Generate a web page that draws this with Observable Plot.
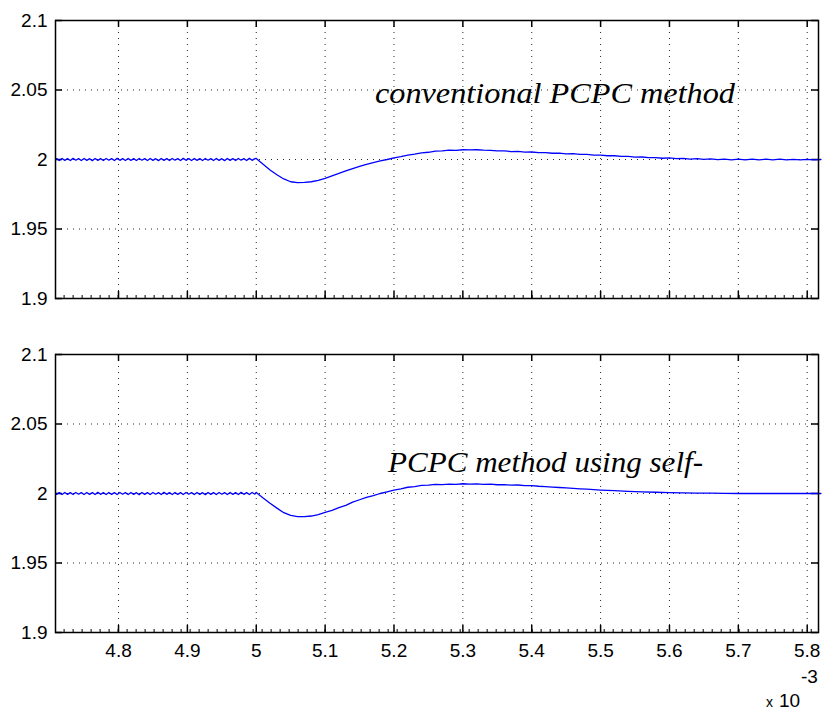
<!DOCTYPE html>
<html>
<head>
<meta charset="utf-8">
<script src="https://cdn.jsdelivr.net/npm/d3@7"></script>
<script src="https://cdn.jsdelivr.net/npm/@observablehq/plot@0.6"></script>
<style>
  html, body { margin: 0; padding: 0; background: #fff; }
  #wrap { position: relative; width: 824px; height: 713px; font-family: "Liberation Sans", Arial, sans-serif; }
  #wrap svg { display: block; }
</style>
</head>
<body>
<div id="wrap"></div>
<script>
// ---- data (time in ms, i.e. x10^-3 s; voltage) ----
const xTicks = [4.8, 4.9, 5.0, 5.1, 5.2, 5.3, 5.4, 5.5, 5.6, 5.7, 5.8];
const xTickLabels = ["4.8", "4.9", "5", "5.1", "5.2", "5.3", "5.4", "5.5", "5.6", "5.7", "5.8"];
const yTicks = [1.9, 1.95, 2.0, 2.05, 2.1];
const yTickLabels = ["1.9", "1.95", "2", "2.05", "2.1"];
const yGrid = [1.95, 2.0, 2.05];
const annotations = ["conventional PCPC method", "PCPC method using self-"];
const exponentParts = ["x", "10", "-3"];

// steady-state ripple segment (before the step at t = 5 ms)
const tPre = [
  4.710,4.714,4.718,4.722,4.726,4.730,4.734,4.738,4.742,4.746,
  4.750,4.754,4.758,4.762,4.766,4.770,4.774,4.778,4.782,4.786,
  4.790,4.794,4.798,4.802,4.806,4.810,4.814,4.818,4.822,4.826,
  4.830,4.834,4.838,4.842,4.846,4.850,4.854,4.858,4.862,4.866,
  4.870,4.874,4.878,4.882,4.886,4.890,4.894,4.898,4.902,4.906,
  4.910,4.914,4.918,4.922,4.926,4.930,4.934,4.938,4.942,4.946,
  4.950,4.954,4.958,4.962,4.966,4.970,4.974,4.978,4.982,4.986,
  4.990,4.994,4.998
];
const vPreTop = [
  2.0006,1.9993,2.0007,1.9994,2.0006,1.9993,2.0008,1.9995,2.0006,1.9993,
  2.0007,1.9994,2.0006,1.9992,2.0007,1.9994,2.0006,1.9993,2.0007,1.9995,
  2.0006,1.9993,2.0008,1.9994,2.0006,1.9993,2.0007,1.9994,2.0006,1.9993,
  2.0007,1.9995,2.0006,1.9993,2.0007,1.9994,2.0006,1.9992,2.0007,1.9994,
  2.0006,1.9993,2.0007,1.9995,2.0006,1.9993,2.0008,1.9994,2.0006,1.9993,
  2.0007,1.9994,2.0006,1.9993,2.0007,1.9995,2.0006,1.9993,2.0007,1.9994,
  2.0006,1.9992,2.0007,1.9994,2.0006,1.9993,2.0007,1.9995,2.0006,1.9993,
  2.0008,1.9994,2.0006
];
const vPreBottom = [
  1.9994,2.0006,1.9993,2.0007,1.9994,2.0006,1.9993,2.0007,1.9995,2.0006,
  1.9993,2.0007,1.9994,2.0006,1.9993,2.0008,1.9994,2.0006,1.9993,2.0007,
  1.9994,2.0006,1.9993,2.0007,1.9995,2.0006,1.9993,2.0007,1.9994,2.0006,
  1.9992,2.0007,1.9994,2.0006,1.9993,2.0007,1.9995,2.0006,1.9993,2.0008,
  1.9994,2.0006,1.9993,2.0007,1.9994,2.0006,1.9993,2.0007,1.9995,2.0006,
  1.9993,2.0007,1.9994,2.0006,1.9992,2.0007,1.9994,2.0006,1.9993,2.0007,
  1.9995,2.0006,1.9993,2.0007,1.9994,2.0006,1.9993,2.0008,1.9994,2.0006,
  1.9993,2.0007,1.9995
];

// transient segment, top panel (conventional PCPC)
const tPostTop = [
  5.00,5.01,5.02,5.03,5.04,5.05,5.06,5.07,5.08,5.09,
  5.10,5.11,5.12,5.13,5.14,5.15,5.16,5.17,5.18,5.19,
  5.20,5.21,5.22,5.23,5.24,5.25,5.26,5.27,5.28,5.29,
  5.30,5.31,5.32,5.33,5.34,5.35,5.36,5.37,5.38,5.39,
  5.40,5.41,5.42,5.43,5.44,5.45,5.46,5.47,5.48,5.49,
  5.50,5.51,5.52,5.53,5.54,5.55,5.56,5.57,5.58,5.59,
  5.60,5.61,5.62,5.63,5.64,5.65,5.66,5.67,5.68,5.69,
  5.70,5.71,5.72,5.73,5.74,5.75,5.76,5.77,5.78,5.79,
  5.80,5.81,5.82
];
const vPostTop = [
  2.0008,1.9965,1.9925,1.9890,1.9860,1.9840,1.9833,1.9835,1.9840,1.9850,
  1.9865,1.9882,1.9900,1.9918,1.9935,1.9950,1.9965,1.9978,1.9990,2.0000,
  2.0012,2.0020,2.0032,2.0038,2.0048,2.0052,2.0060,2.0062,2.0067,2.0066,
  2.0070,2.0069,2.0070,2.0067,2.0066,2.0062,2.0062,2.0057,2.0058,2.0053,
  2.0054,2.0049,2.0050,2.0045,2.0046,2.0041,2.0042,2.0037,2.0037,2.0032,
  2.0032,2.0027,2.0027,2.0022,2.0022,2.0017,2.0018,2.0013,2.0014,2.0009,
  2.0011,2.0006,2.0008,2.0003,2.0006,2.0001,2.0004,1.9999,2.0003,1.9998,
  2.0003,1.9998,2.0002,1.9997,2.0002,1.9997,2.0002,1.9997,2.0001,1.9997,
  2.0001,1.9998,2.0000
];

// transient segment, bottom panel (PCPC using self-...)
const tPostBottom = [
  5.00,5.01,5.02,5.03,5.04,5.05,5.06,5.07,5.08,5.09,
  5.10,5.11,5.12,5.13,5.14,5.15,5.16,5.17,5.18,5.19,
  5.20,5.21,5.22,5.23,5.24,5.25,5.26,5.27,5.28,5.29,
  5.30,5.31,5.32,5.33,5.34,5.35,5.36,5.37,5.38,5.39,
  5.40,5.41,5.42,5.43,5.44,5.45,5.46,5.47,5.48,5.49,
  5.50,5.52,5.54,5.56,5.58,5.60,5.62,5.64,5.66,5.68,
  5.70,5.76,5.82
];
const vPostBottom = [
  2.0008,1.9968,1.9930,1.9895,1.9862,1.9842,1.9834,1.9833,1.9838,1.9848,
  1.9865,1.9878,1.9898,1.9915,1.9938,1.9955,1.9972,1.9985,2.0000,2.0012,
  2.0025,2.0033,2.0045,2.0050,2.0059,2.0060,2.0065,2.0064,2.0068,2.0066,
  2.0070,2.0067,2.0069,2.0065,2.0067,2.0063,2.0064,2.0060,2.0061,2.0056,
  2.0056,2.0052,2.0050,2.0046,2.0043,2.0040,2.0037,2.0034,2.0031,2.0028,
  2.0025,2.0020,2.0016,2.0012,2.0009,2.0007,2.0005,2.0003,2.0002,2.0001,
  2.0000,2.0000,2.0000
];

// ---- layout ----
const W = 824, ML = 55, MR = 6;
const FW = W - ML - MR;   // frame width
const FH = 278;           // frame height
const xDomain = [4.7085, 5.8164];
const yDomain = [1.9, 2.1];
const minorTicks = d3.range(4.7210, 5.817, 0.01307);
const font = "Liberation Sans, Arial, sans-serif";
const serif = "Liberation Serif, Times New Roman, serif";

function rows(ts, vs) { return ts.map((t, i) => ({t, v: vs[i]})); }

function panel({height, marginTop, marginBottom, series, showX}) {
  const marks = [
    Plot.gridX(xTicks, {stroke: "#000", strokeOpacity: 0.85, strokeDasharray: "1,5"}),
    Plot.gridY(yGrid, {stroke: "#000", strokeOpacity: 0.85, strokeDasharray: "1,5"}),
    Plot.ruleX(xTicks, {x: d => d, insetBottom: FH - 7, stroke: "#000", strokeWidth: 1.5}),
    Plot.ruleX(xTicks, {x: d => d, insetTop: FH - 7, stroke: "#000", strokeWidth: 1.5}),
    Plot.ruleX(minorTicks, {x: d => d, insetTop: FH - 3, stroke: "#000", strokeWidth: 1}),
    Plot.ruleY(yTicks, {y: d => d, insetRight: FW - 7, stroke: "#000", strokeWidth: 1.5}),
    Plot.ruleY(yTicks, {y: d => d, insetLeft: FW - 7, stroke: "#000", strokeWidth: 1.5}),
    Plot.line(series, {x: "t", y: "v", stroke: "#0000ff", strokeWidth: 1.3}),
    Plot.frame({stroke: "#000", strokeWidth: 1.5}),
    Plot.axisY(yTicks, {tickSize: 0, tickPadding: 8, fontSize: 19, fill: "#000", label: null,
      tickFormat: d => yTickLabels[yTicks.indexOf(d)]})
  ];
  if (showX) {
    marks.push(Plot.axisX(xTicks, {tickSize: 0, tickPadding: 11, fontSize: 19, fill: "#000", label: null,
      tickFormat: d => xTickLabels[xTicks.indexOf(d)]}));
  }
  return Plot.plot({
    width: W, height, marginLeft: ML, marginRight: MR, marginTop, marginBottom,
    style: {fontFamily: font, fontSize: "19px", color: "#000", background: "#fff", overflow: "visible"},
    x: {domain: xDomain, axis: null, label: null},
    y: {domain: yDomain, axis: null, label: null},
    marks
  });
}

function addText(svg, str, x, y, size, opts = {}) {
  const t = d3.select(svg).append("text")
    .attr("x", x).attr("y", y)
    .attr("text-anchor", "start")
    .attr("font-family", opts.family || font)
    .attr("font-size", size)
    .attr("fill", "#000")
    .text(str);
  if (opts.italic) t.attr("font-style", "italic");
  if (opts.length) t.attr("textLength", opts.length).attr("lengthAdjust", "spacingAndGlyphs");
  return t;
}

const wrap = document.getElementById("wrap");

const topPanel = panel({
  height: 330, marginTop: 20, marginBottom: 32,
  series: rows(tPre.concat(tPostTop), vPreTop.concat(vPostTop)),
  showX: false
});
wrap.appendChild(topPanel);
addText(topPanel, annotations[0], 375, 103, 29, {family: serif, italic: true, length: 360});

const bottomPanel = panel({
  height: 383, marginTop: 24, marginBottom: 81,
  series: rows(tPre.concat(tPostBottom), vPreBottom.concat(vPostBottom)),
  showX: true
});
wrap.appendChild(bottomPanel);
addText(bottomPanel, annotations[1], 388, 472 - 330, 29, {family: serif, italic: true, length: 315});

// exponent label "x 10^-3" (bottom panel SVG starts at y = 330)
addText(bottomPanel, exponentParts[0], 766, 707 - 330, 14);
addText(bottomPanel, exponentParts[1], 779, 707 - 330, 19);
addText(bottomPanel, exponentParts[2], 801, 683 - 330, 19);
</script>
</body>
</html>
